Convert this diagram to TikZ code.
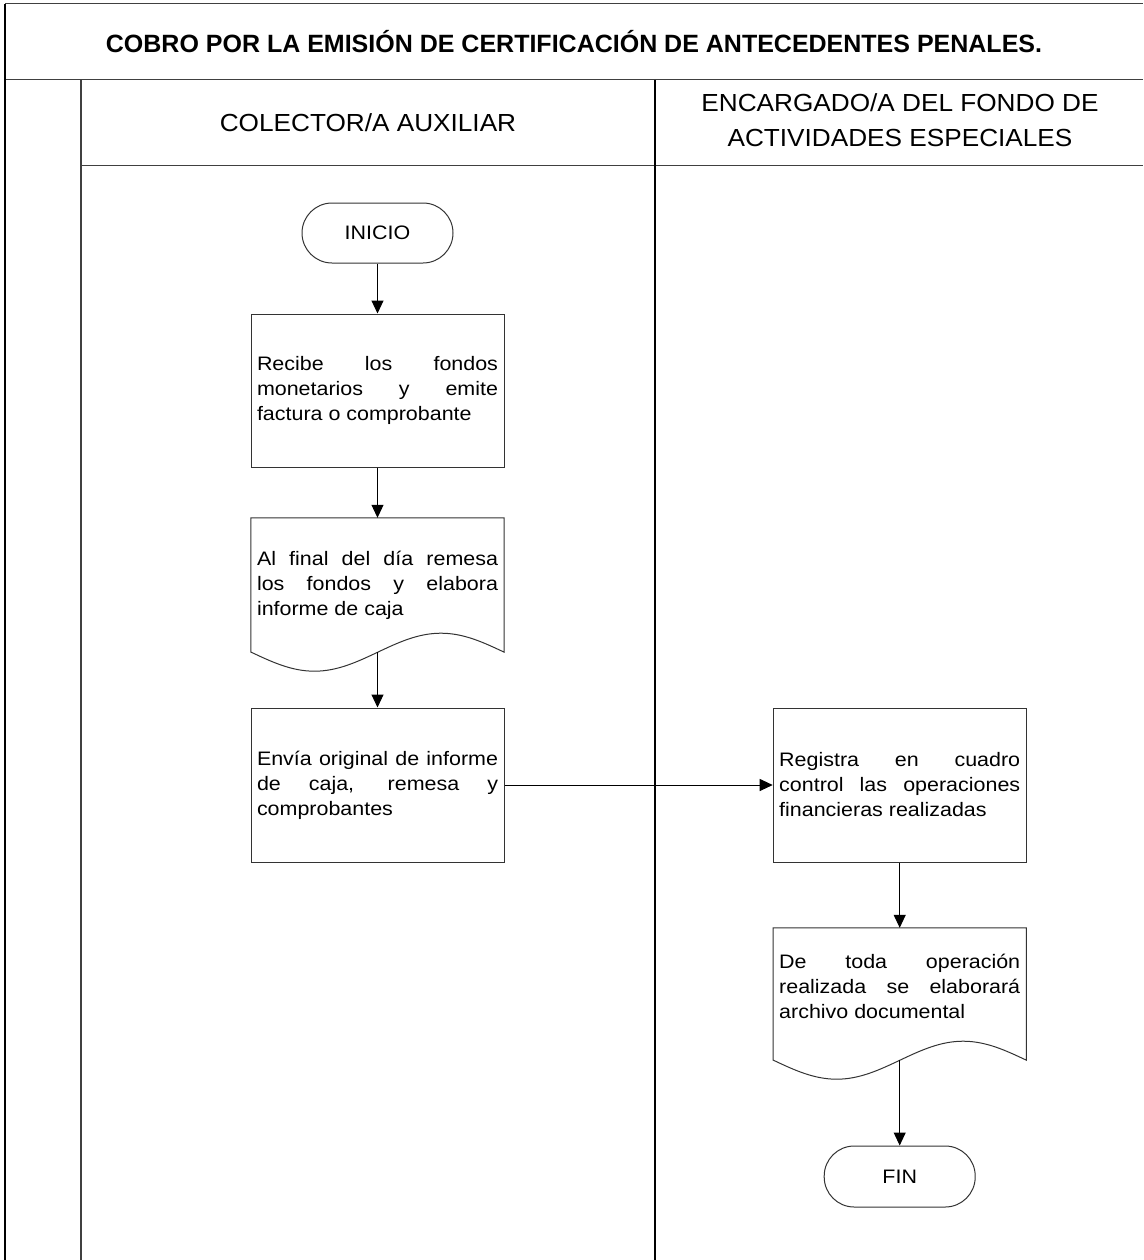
\documentclass[tikz,border=0pt]{standalone}
\usepackage{fontspec}
\setmainfont{Liberation Sans}
\newfontfamily\bodyfont{Liberation Sans}[FakeStretch=1.1]
\newfontfamily\headfont{Liberation Sans}[FakeStretch=1.06]
\usetikzlibrary{arrows.meta}
\hbadness=10000
\begin{document}
\begin{tikzpicture}[x=1pt,y=-1pt,
  lane/.style={line width=1pt, draw=black!75},
  border/.style={line width=1.6pt, draw=black},
  bodytext/.style={font={\bodyfont\fontsize{19.5}{25}\selectfont}},
  proc/.style={bodytext, draw=black!80, line width=1pt, minimum width=253pt,
    inner xsep=6pt, text width=241pt, align=justify},
  docbox/.style={bodytext, minimum width=253pt, inner xsep=6pt,
    text width=241pt, align=justify},
  docline/.style={draw=black!80, line width=1pt},
  terminal/.style={bodytext, draw=black!80, line width=1pt, rectangle,
    rounded corners=30pt, minimum width=151pt, minimum height=60pt},
  flow/.style={-{Triangle[length=13pt,width=12pt]}, line width=1pt, draw=black}
]
\useasboundingbox (0,0) rectangle (1143,1260);

% swimlane frame
\draw[lane] (5,4) -- (1143,4);
\draw[lane] (5,80) -- (1143,80);
\draw[border] (5,4) -- (5,1260);
\draw[lane, line width=1.4pt] (81,80) -- (81,1260);
\draw[lane] (81,166) -- (1143,166);
\draw[border, line width=1.3pt] (655,80) -- (655,1260);

% title and lane headers
\node (title) at (574,42) {\fontsize{25}{30}\selectfont\bfseries COBRO POR LA EMISIÓN DE CERTIFICACIÓN DE ANTECEDENTES PENALES.};
\node (laneA) at (368,123) {\headfont\fontsize{24.7}{35}\selectfont COLECTOR/A AUXILIAR};
\node[align=center, font={\headfont\fontsize{24.7}{35}\selectfont}] (laneB) at (900,120.5) {ENCARGADO/A DEL FONDO DE\\ACTIVIDADES ESPECIALES};

% lane 1
\node[terminal] (ini) at (377.5,233) {INICIO};
\node[proc, minimum height=153pt] (b1) at (377.5,390.5)
  {Recibe los fondos\linebreak monetarios y emite\linebreak factura o comprobante};
\node[docbox, minimum height=134pt] (d2) at (377.5,585)
  {Al final del día remesa\linebreak los fondos y elabora\linebreak informe de caja};
\node[proc, minimum height=154pt] (b3) at (377.5,785)
  {Envía original de informe\linebreak de caja, remesa y\linebreak comprobantes};

% lane 2
\node[proc, minimum height=154pt] (b4) at (899.7,785)
  {Registra en cuadro\linebreak control las operaciones\linebreak financieras realizadas};
\node[docbox, minimum height=132pt, text depth=66pt] (d5) at (899.7,994)
  {De toda operación\linebreak realizada se elaborará\linebreak archivo documental};
\node[terminal, minimum height=61pt] (fin) at (899.7,1176.5) {FIN};

% document outlines with wavy lower edge
\foreach \d in {d2,d5}{
  \draw[docline] (\d.south west) -- (\d.north west) -- (\d.north east) -- (\d.south east)
    sin ++(-63.25,-19) cos ++(-63.25,19) sin ++(-63.25,19) cos ++(-63.25,-19) -- cycle;
}

% connectors
\draw[flow] (ini) -- (b1);
\draw[flow] (b1) -- (d2);
\draw[flow] (d2) -- (b3);
\draw[flow] (b3) -- (b4);
\draw[flow] (b4) -- (d5);
\draw[flow] (d5) -- (fin);
\end{tikzpicture}
\end{document}
